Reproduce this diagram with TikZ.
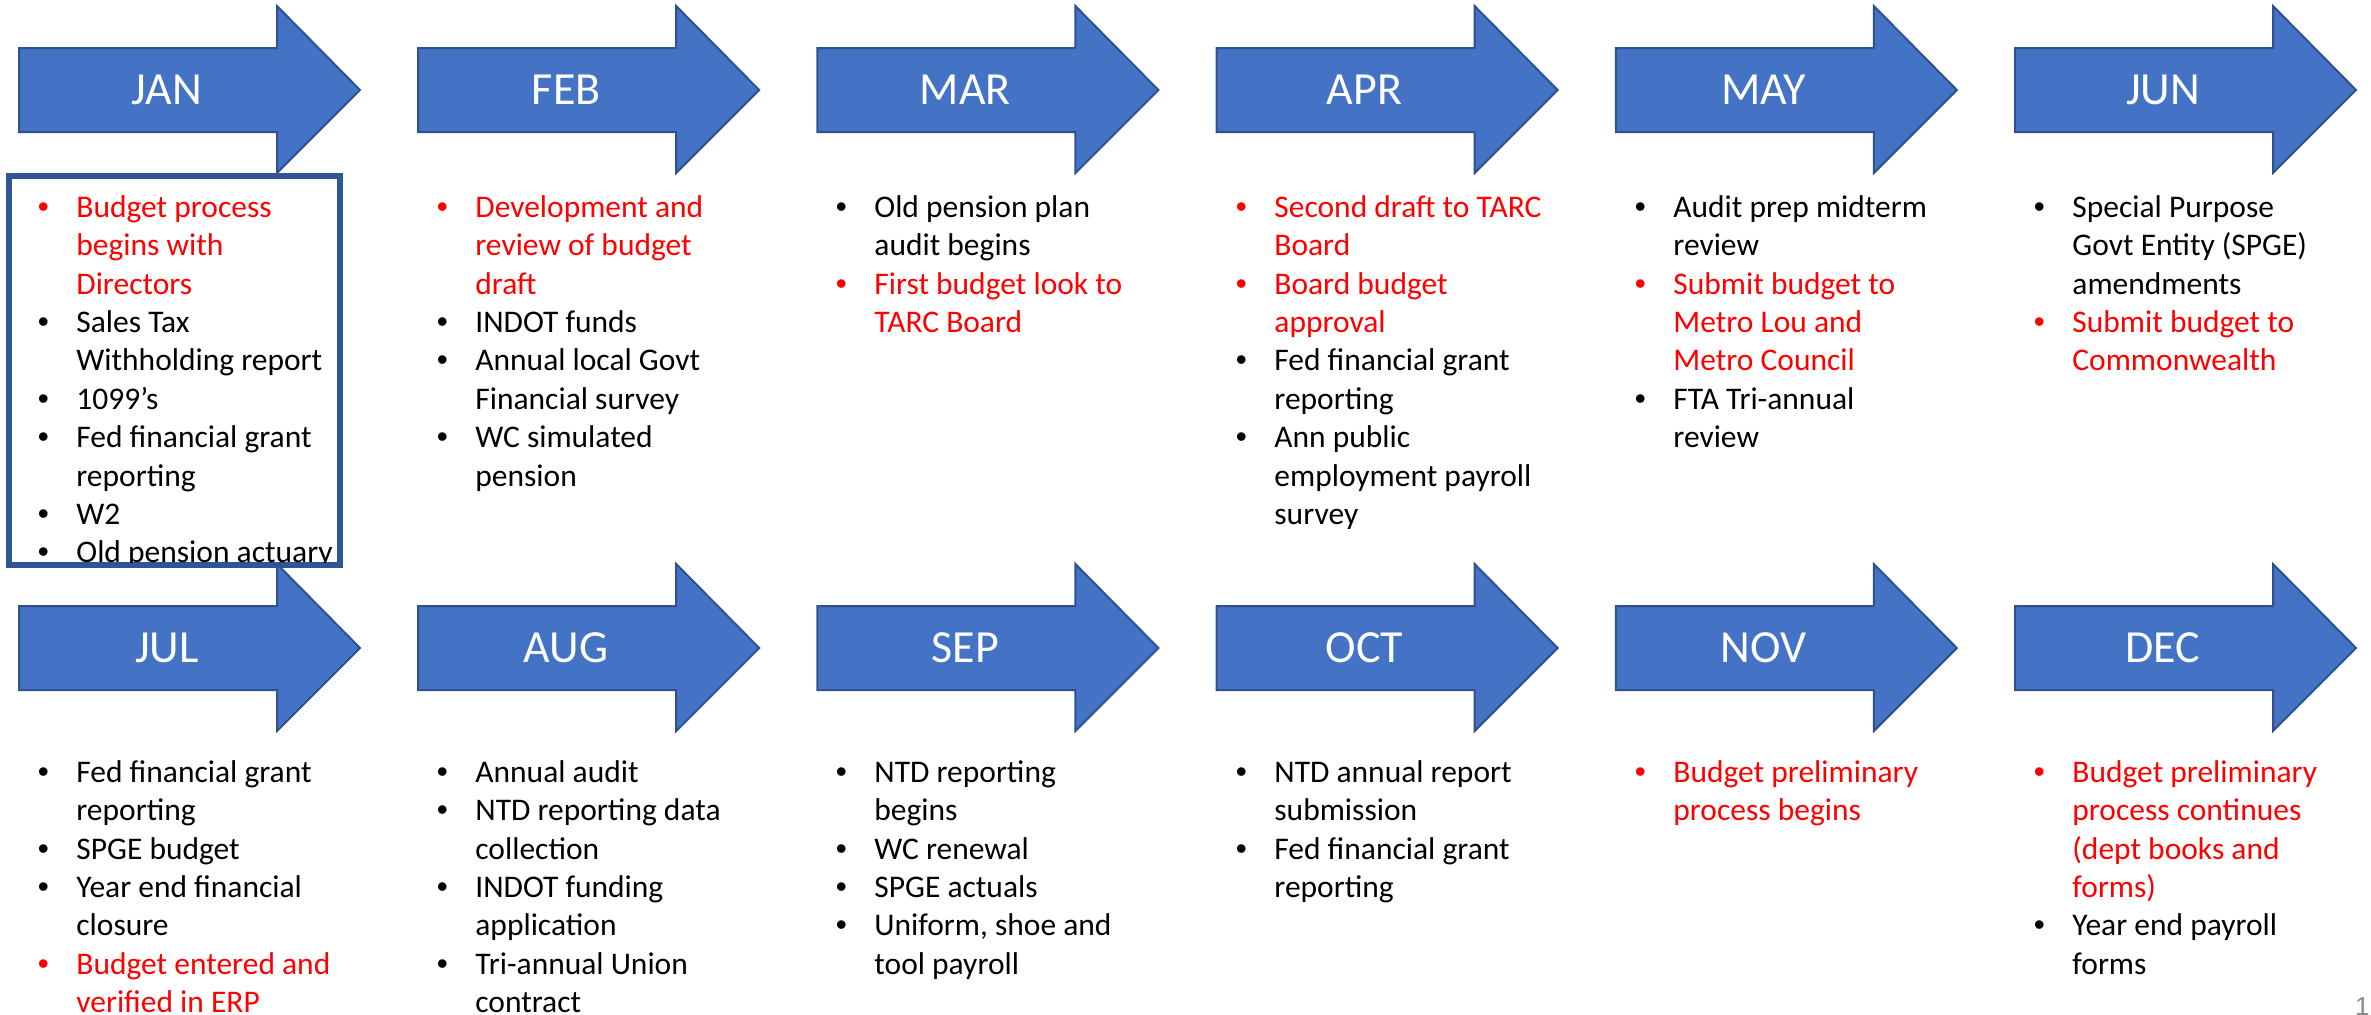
\documentclass[tikz,border=0pt]{standalone}
\usepackage{fontspec}
\setmainfont{Carlito}
\newfontfamily\bulletfont{Liberation Sans}
\newfontfamily\pagenumfont{Liberation Sans}

\definecolor{arrowfill}{RGB}{68,114,196}
\definecolor{arrowline}{RGB}{47,82,143}
\definecolor{boxline}{RGB}{47,85,151}
\definecolor{pagegray}{RGB}{137,137,137}
\definecolor{hot}{RGB}{255,0,0}

% a bulleted line and a continuation line of a task list
\newcommand{\itm}[2]{\makebox[0pt]{\textcolor{#1}{\bulletfont •}}\hspace*{16.5pt}\textcolor{#1}{#2}\strut}
\newcommand{\cnt}[2]{\hspace*{16.5pt}\textcolor{#1}{#2}\strut}

\begin{document}
\begin{tikzpicture}[x=0.5pt,y=-0.5pt,
  monthbar/.style={fill=arrowfill, draw=arrowline, line width=1pt, line join=miter},
  monthlabel/.style={text=white, anchor=base, inner sep=0,
    font=\fontsize{23pt}{27pt}\selectfont},
  tasklist/.style={anchor=north west, inner sep=0, align=left,
    font=\fontsize{15.75pt}{19.2pt}\selectfont}]

\useasboundingbox (0,0) rectangle (2371,1014);

% month arrows, two rows of six
\foreach \m [count=\i from 0] in {JAN,FEB,MAR,APR,MAY,JUN,JUL,AUG,SEP,OCT,NOV,DEC} {
  \pgfmathsetmacro\xo{19+399.2*mod(\i,6)}
  \pgfmathsetmacro\c{\i<6 ? 90 : 648}
  \draw[monthbar] (\xo,\c-42) -- (\xo+258,\c-42) -- (\xo+258,\c-84)
    -- (\xo+341,\c) -- (\xo+258,\c+83) -- (\xo+258,\c+42) -- (\xo,\c+42) -- cycle;
  \node[monthlabel] (\m) at (\xo+148,\c+14.5) {\m};
}

% framed January list
\draw[line width=3pt, draw=boxline, fill=white] (9,176) rectangle (340,565);
\begin{scope}
\clip (12,179) rectangle (337,562);
\node[tasklist] (tjan) at (43,190) {%
  \itm{hot}{Budget process}\\ \cnt{hot}{begins with}\\ \cnt{hot}{Directors}\\
  \itm{black}{Sales Tax}\\ \cnt{black}{Withholding report}\\
  \itm{black}{1099’s}\\
  \itm{black}{Fed financial grant}\\ \cnt{black}{reporting}\\
  \itm{black}{W2}\\
  \itm{black}{Old pension actuary}};
\end{scope}

\node[tasklist] (tfeb) at (442,190) {%
  \itm{hot}{Development and}\\ \cnt{hot}{review of budget}\\ \cnt{hot}{draft}\\
  \itm{black}{INDOT funds}\\
  \itm{black}{Annual local Govt}\\ \cnt{black}{Financial survey}\\
  \itm{black}{WC simulated}\\ \cnt{black}{pension}};

\node[tasklist] (tmar) at (841,190) {%
  \itm{black}{Old pension plan}\\ \cnt{black}{audit begins}\\
  \itm{hot}{First budget look to}\\ \cnt{hot}{TARC Board}};

\node[tasklist] (tapr) at (1241,190) {%
  \itm{hot}{Second draft to TARC}\\ \cnt{hot}{Board}\\
  \itm{hot}{Board budget}\\ \cnt{hot}{approval}\\
  \itm{black}{Fed financial grant}\\ \cnt{black}{reporting}\\
  \itm{black}{Ann public}\\ \cnt{black}{employment payroll}\\ \cnt{black}{survey}};

\node[tasklist] (tmay) at (1640,190) {%
  \itm{black}{Audit prep midterm}\\ \cnt{black}{review}\\
  \itm{hot}{Submit budget to}\\ \cnt{hot}{Metro Lou and}\\ \cnt{hot}{Metro Council}\\
  \itm{black}{FTA Tri-annual}\\ \cnt{black}{review}};

\node[tasklist] (tjun) at (2039,190) {%
  \itm{black}{Special Purpose}\\ \cnt{black}{Govt Entity (SPGE)}\\ \cnt{black}{amendments}\\
  \itm{hot}{Submit budget to}\\ \cnt{hot}{Commonwealth}};

\node[tasklist] (tjul) at (43,755) {%
  \itm{black}{Fed financial grant}\\ \cnt{black}{reporting}\\
  \itm{black}{SPGE budget}\\
  \itm{black}{Year end financial}\\ \cnt{black}{closure}\\
  \itm{hot}{Budget entered and}\\ \cnt{hot}{verified in ERP}};

\node[tasklist] (taug) at (442,755) {%
  \itm{black}{Annual audit}\\
  \itm{black}{NTD reporting data}\\ \cnt{black}{collection}\\
  \itm{black}{INDOT funding}\\ \cnt{black}{application}\\
  \itm{black}{Tri-annual Union}\\ \cnt{black}{contract}};

\node[tasklist] (tsep) at (841,755) {%
  \itm{black}{NTD reporting}\\ \cnt{black}{begins}\\
  \itm{black}{WC renewal}\\
  \itm{black}{SPGE actuals}\\
  \itm{black}{Uniform, shoe and}\\ \cnt{black}{tool payroll}};

\node[tasklist] (toct) at (1241,755) {%
  \itm{black}{NTD annual report}\\ \cnt{black}{submission}\\
  \itm{black}{Fed financial grant}\\ \cnt{black}{reporting}};

\node[tasklist] (tnov) at (1640,755) {%
  \itm{hot}{Budget preliminary}\\ \cnt{hot}{process begins}};

\node[tasklist] (tdec) at (2039,755) {%
  \itm{hot}{Budget preliminary}\\ \cnt{hot}{process continues}\\ \cnt{hot}{(dept books and}\\ \cnt{hot}{forms)}\\
  \itm{black}{Year end payroll}\\ \cnt{black}{forms}};

% slide number
\node[anchor=north east, inner sep=0, text=pagegray,
  font=\pagenumfont\fontsize{13pt}{15pt}\selectfont] (pagenum) at (2370,997) {1};

\end{tikzpicture}
\end{document}
